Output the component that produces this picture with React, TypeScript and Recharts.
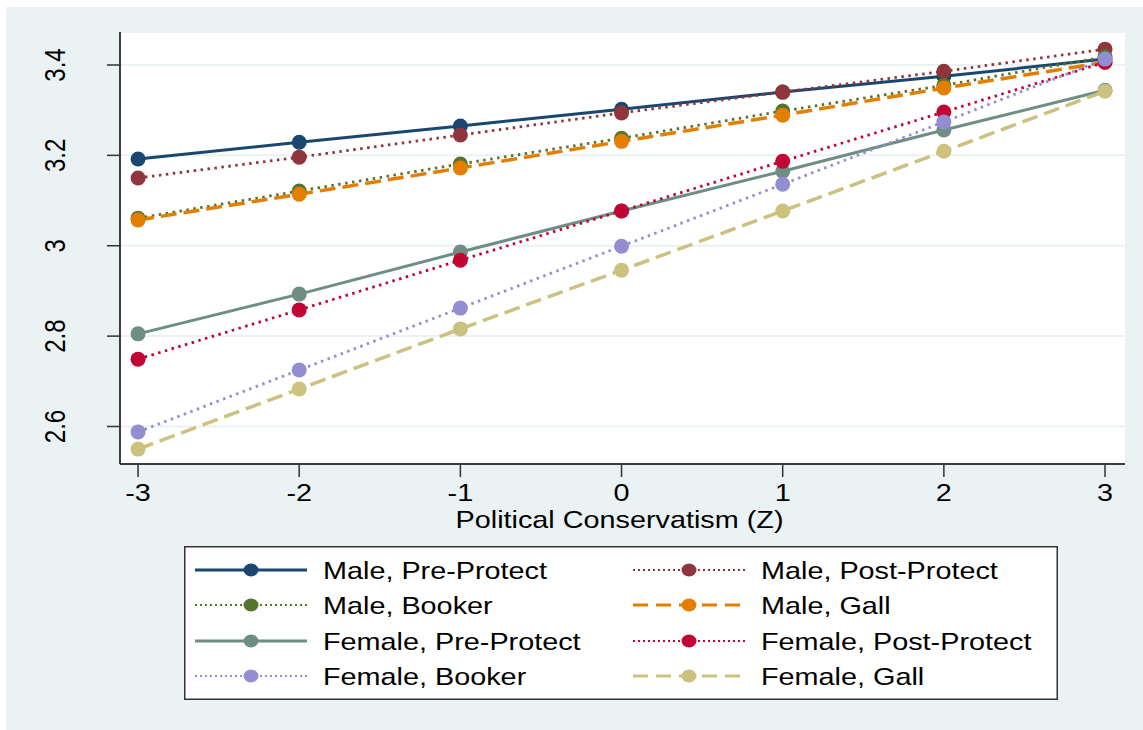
import React from "react";
import { LineChart, Line, XAxis, YAxis, CartesianGrid, Legend } from "recharts";

// Predicted scores across political conservatism (Z)
const conservatism = [-3, -2, -1, 0, 1, 2, 3];
const yTicks = [2.6, 2.8, 3, 3.2, 3.4];

const malePreProtect = [3.192, 3.229, 3.265, 3.302, 3.34, 3.375, 3.413];
const malePostProtect = [3.15, 3.196, 3.245, 3.294, 3.34, 3.386, 3.435];
const maleBooker = [3.061, 3.121, 3.181, 3.238, 3.298, 3.355, 3.418];
const maleGall = [3.057, 3.114, 3.172, 3.231, 3.289, 3.349, 3.406];
const femalePreProtect = [2.805, 2.893, 2.986, 3.077, 3.165, 3.256, 3.344];
const femalePostProtect = [2.749, 2.858, 2.968, 3.077, 3.187, 3.296, 3.406];
const femaleBooker = [2.588, 2.725, 2.862, 2.999, 3.136, 3.274, 3.413];
const femaleGall = [2.55, 2.683, 2.816, 2.946, 3.077, 3.209, 3.342];

type Series = {
  key: string;
  name: string;
  values: number[];
  color: string;
  width: number;
  dash?: string;
  legendDash?: string;
};

const series: Series[] = [
  { key: "mpre", name: "Male, Pre-Protect", values: malePreProtect, color: "#1A476F", width: 3 },
  { key: "mpost", name: "Male, Post-Protect", values: malePostProtect, color: "#90353B", width: 2.8, dash: "2.5 4.5", legendDash: "2 3" },
  { key: "mbook", name: "Male, Booker", values: maleBooker, color: "#55752F", width: 2.8, dash: "2.5 4.5", legendDash: "2 3" },
  { key: "mgall", name: "Male, Gall", values: maleGall, color: "#E37E00", width: 3.5, dash: "16 7", legendDash: "15 8" },
  { key: "fpre", name: "Female, Pre-Protect", values: femalePreProtect, color: "#6E8E84", width: 3 },
  { key: "fpost", name: "Female, Post-Protect", values: femalePostProtect, color: "#C10534", width: 2.8, dash: "2.5 4.5", legendDash: "2 3" },
  { key: "fbook", name: "Female, Booker", values: femaleBooker, color: "#938DD2", width: 2.8, dash: "2.5 4.5", legendDash: "2 3" },
  { key: "fgall", name: "Female, Gall", values: femaleGall, color: "#CAC27E", width: 3.5, dash: "16 7", legendDash: "15 8" },
];

const data = conservatism.map((x, i) => {
  const row: Record<string, number> = { x };
  series.forEach((s) => {
    row[s.key] = s.values[i];
  });
  return row;
});

const FONT = "'Liberation Sans', Arial, sans-serif";
const STRETCH = 1.2;

const XTick = (props: any) => {
  const { x, payload } = props;
  return (
    <text
      transform={`translate(${x}, 501) scale(${STRETCH}, 1)`}
      textAnchor="middle"
      fontFamily={FONT}
      fontSize={24}
      fill="#000"
    >
      {String(payload.value)}
    </text>
  );
};

const YTick = (props: any) => {
  const { y, payload } = props;
  return (
    <text
      transform={`translate(65, ${y}) rotate(-90) scale(1, ${STRETCH})`}
      textAnchor="middle"
      fontFamily={FONT}
      fontSize={24}
      fill="#000"
    >
      {String(payload.value)}
    </text>
  );
};

const XTitle = (props: any) => {
  const vb = props.viewBox || { x: 120, width: 1005 };
  const cx = vb.x + vb.width / 2 - 3;
  return (
    <text
      transform={`translate(${cx}, 528) scale(${STRETCH}, 1)`}
      textAnchor="middle"
      fontFamily={FONT}
      fontSize={24}
      fill="#000"
    >
      Political Conservatism (Z)
    </text>
  );
};

const LEGEND_W = 874;
const LEGEND_H = 154;
const rowY = [24, 59, 95, 130];
const colX = [
  { lineStart: 11, lineEnd: 123, marker: 67, text: 139 },
  { lineStart: 449, lineEnd: 561, marker: 505, text: 577 },
];

const LegendBox = () => (
  <svg width={LEGEND_W} height={LEGEND_H} style={{ display: "block" }}>
    <rect x={0.75} y={0.75} width={LEGEND_W - 1.5} height={LEGEND_H - 1.5} fill="#fff" stroke="#333" strokeWidth={1.5} />
    {series.map((s, i) => {
      const col = colX[i % 2];
      const y = rowY[Math.floor(i / 2)];
      return (
        <g key={s.key}>
          <line
            x1={col.lineStart}
            x2={col.lineEnd}
            y1={y}
            y2={y}
            stroke={s.color}
            strokeWidth={s.dash ? (s.legendDash === "2 3" ? 2 : 3) : 3}
            strokeDasharray={s.legendDash}
          />
          <ellipse cx={col.marker} cy={y} rx={7.5} ry={6.5} fill={s.color} />
          <text
            transform={`translate(${col.text}, ${y + 8.5}) scale(${STRETCH}, 1)`}
            fontFamily={FONT}
            fontSize={24}
            fill="#000"
          >
            {s.name}
          </text>
        </g>
      );
    })}
  </svg>
);

export default function App() {
  return (
    <div style={{ position: "absolute", left: 0, top: 0, width: 1143, height: 730, background: "#fff" }}>
      <div style={{ position: "absolute", left: 6, top: 7, right: 0, bottom: 0, background: "#EAF2F3" }} />
      <div style={{ position: "absolute", left: 0, top: 0 }}>
        <LineChart width={1143} height={730} data={data} margin={{ top: 32, right: 18, left: 0, bottom: 196 }}>
          <CartesianGrid vertical={false} fill="#fff" stroke="#EAF2F3" strokeWidth={2} />
          <XAxis
            dataKey="x"
            type="number"
            domain={[-3.112, 3.124]}
            ticks={conservatism}
            allowDataOverflow
            height={70}
            tickSize={13}
            axisLine={{ stroke: "#000", strokeWidth: 1.5 }}
            tickLine={{ stroke: "#333", strokeWidth: 1.5 }}
            tick={<XTick />}
            label={<XTitle />}
          />
          <YAxis
            type="number"
            domain={[2.517, 3.473]}
            ticks={yTicks}
            allowDataOverflow
            width={120}
            tickSize={13}
            axisLine={{ stroke: "#000", strokeWidth: 1.5 }}
            tickLine={{ stroke: "#333", strokeWidth: 1.5 }}
            tick={<YTick />}
          />
          <Legend
            layout="horizontal"
            verticalAlign="middle"
            align="center"
            wrapperStyle={{ left: 184, top: 546, width: LEGEND_W, height: LEGEND_H, margin: 0, padding: 0 }}
            content={() => <LegendBox />}
          />
          {series.map((s) => (
            <Line
              key={s.key}
              dataKey={s.key}
              name={s.name}
              type="linear"
              stroke={s.color}
              strokeWidth={s.width}
              strokeDasharray={s.dash}
              dot={{ r: 7.5, fill: s.color, stroke: "none", strokeWidth: 0 }}
              activeDot={false}
              isAnimationActive={false}
            />
          ))}
        </LineChart>
      </div>
    </div>
  );
}
